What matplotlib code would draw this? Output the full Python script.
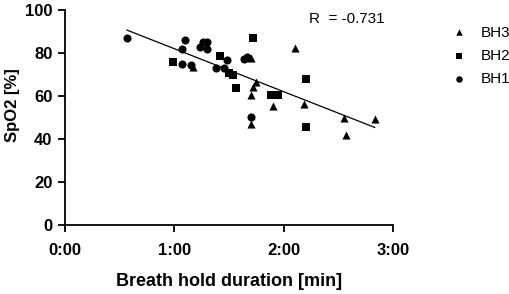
# SpO2 vs breath hold duration, three breath holds
import numpy as np
import matplotlib.pyplot as plt
from matplotlib.ticker import FuncFormatter

plt.rcParams['font.family'] = ['Liberation Sans', 'DejaVu Sans']

# breath hold duration in seconds, SpO2 in %
bh3_t = [70, 102, 105, 103, 102, 102, 114, 126, 131, 153, 154, 170]
bh3_spo2 = [73.7, 77.6, 66.7, 64.1, 60.5, 46.9, 55.4, 82.6, 56.4, 50.0, 42.0, 49.2]

bh2_t = [59, 85, 90, 92, 94, 103, 113, 117, 132, 132]
bh2_spo2 = [75.9, 78.7, 70.9, 69.9, 63.7, 87.0, 60.5, 60.5, 67.9, 45.8]

bh1_t = [34, 66, 64, 74, 76, 78, 78, 64, 69, 89, 83, 87, 98, 100, 102]
bh1_spo2 = [87.0, 86.0, 81.8, 83.0, 85.0, 85.0, 82.0, 75.0, 74.5, 76.9, 73.0, 73.0, 77.2, 78.1, 50.4]

r_text = 'R  = -0.731'

fig = plt.figure(figsize=(5.1, 2.94), dpi=100)
ax = fig.add_axes([0.1275, 0.235, 0.643, 0.73])

ms = 34
h3 = ax.scatter(bh3_t, bh3_spo2, marker='^', s=ms, c='black', linewidths=0, label='BH3', zorder=3)
h2 = ax.scatter(bh2_t, bh2_spo2, marker='s', s=ms, c='black', linewidths=0, label='BH2', zorder=3)
h1 = ax.scatter(bh1_t, bh1_spo2, marker='o', s=ms, c='black', linewidths=0, label='BH1', zorder=3)

# linear fit over all points
all_t = np.array(bh3_t + bh2_t + bh1_t, dtype=float)
all_s = np.array(bh3_spo2 + bh2_spo2 + bh1_spo2)
k, b = np.polyfit(all_t, all_s, 1)
xs = np.array([all_t.min(), all_t.max()])
ax.plot(xs, k * xs + b, color='black', lw=0.9, zorder=2)

ax.text(0.745, 0.94, r_text, transform=ax.transAxes, fontsize=11)

ax.set_xlim(0, 180)
ax.set_ylim(0, 100)
ax.set_xticks([0, 60, 120, 180])
ax.set_yticks([0, 20, 40, 60, 80, 100])
ax.xaxis.set_major_formatter(FuncFormatter(lambda v, p: '%d:%02d' % (v // 60, v % 60)))

for s in ['top', 'right']:
    ax.spines[s].set_visible(False)
for s in ['left', 'bottom']:
    ax.spines[s].set_linewidth(1.3)
ax.tick_params(width=1.3, length=5, labelsize=12, pad=4)
ax.tick_params(axis='x', pad=8)
for lab in ax.get_xticklabels() + ax.get_yticklabels():
    lab.set_fontweight('bold')

ax.set_xlabel('Breath hold duration [min]', fontsize=13, fontweight='bold', labelpad=11)
ax.set_ylabel('SpO2 [%]', fontsize=12, fontweight='bold')
ax.yaxis.set_label_coords(-0.137, 0.56)

fig.legend(handles=[h3, h2, h1], loc='upper left', bbox_to_anchor=(0.843, 0.96),
           frameon=False, fontsize=11, handletextpad=0.45, labelspacing=0.62,
           scatterpoints=1, markerscale=0.8)

fig.savefig('out.png', dpi=100)
